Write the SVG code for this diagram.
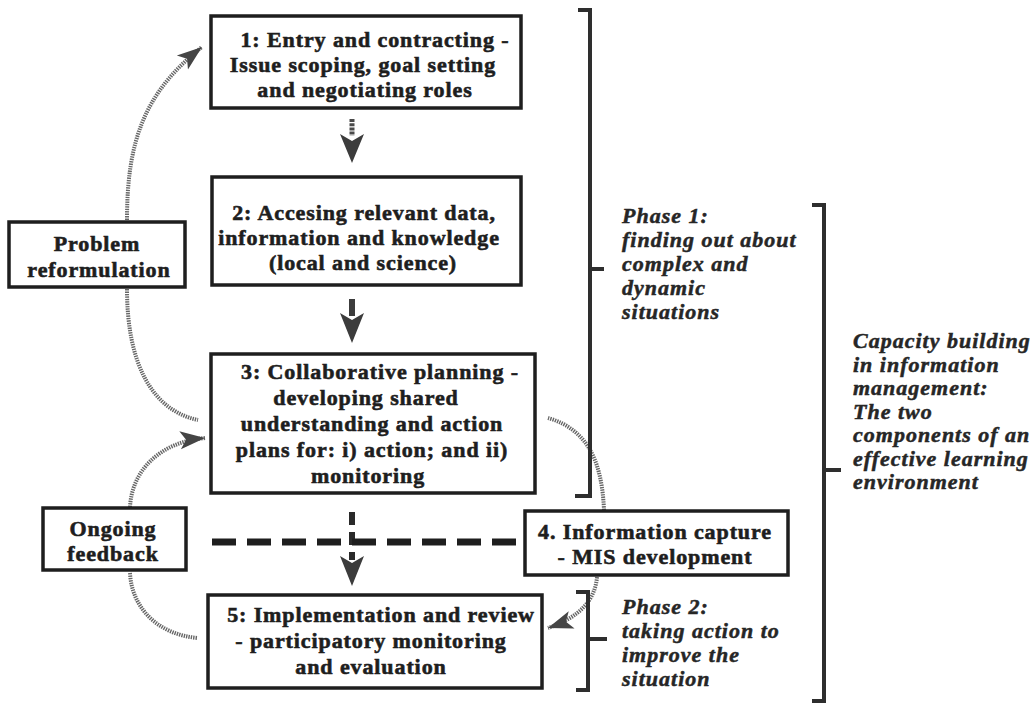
<svg xmlns="http://www.w3.org/2000/svg" width="1035" height="704" viewBox="0 0 1035 704">
  <style>
    .box { fill: #ffffff; stroke: #1e1e1e; stroke-width: 3.5; }
    .lbl { font-family: "Liberation Serif", "Times New Roman", serif; font-weight: bold; font-size: 22px; letter-spacing: 0.9px; fill: #1e1e1e; stroke: #1e1e1e; stroke-width: 0.6px; text-anchor: middle; }
    .note { font-family: "Liberation Serif", "Times New Roman", serif; font-weight: bold; font-style: italic; font-size: 22px; letter-spacing: 1px; fill: #262626; stroke: #262626; stroke-width: 0.5px; }
    .brace { fill: none; stroke: #2e2e2e; stroke-width: 4; }
    .loop { fill: none; stroke: #666666; stroke-width: 4; stroke-dasharray: 1.4 1; }
    .head { fill: #3c3c3c; }
  </style>
  <defs>
    <marker id="loopHead" markerUnits="userSpaceOnUse" markerWidth="26" markerHeight="20" viewBox="0 0 26 20" refX="25" refY="10" orient="auto">
      <path d="M0,1 L25,10 L0,19 L6,10 Z" fill="#454545"/>
    </marker>
  </defs>

  <rect width="1035" height="704" fill="#ffffff"/>

  <!-- connectors -->
  <g id="connectors">
    <!-- 1 to 2 -->
    <line x1="352" y1="119" x2="352" y2="136" stroke="#4a4a4a" stroke-width="5" stroke-dasharray="3 1.2"/>
    <path class="head" d="M340,134 L352,141 L364,134 L352,163 Z"/>
    <!-- 2 to 3 -->
    <line x1="352" y1="299" x2="352" y2="316" stroke="#3c3c3c" stroke-width="6"/>
    <path class="head" d="M340,313 L352,320 L364,313 L352,343 Z"/>
    <!-- 3 to 5 with information capture line -->
    <line x1="352" y1="512" x2="352" y2="560" stroke="#2a2a2a" stroke-width="6" stroke-dasharray="13 7"/>
    <line x1="212" y1="542" x2="524" y2="542" stroke="#1e1e1e" stroke-width="7" stroke-dasharray="24 11"/>
    <path class="head" d="M340,556 L352,563 L364,556 L352,586 Z"/>
    <!-- feedback loops -->
    <path class="loop" d="M127,220 C127,140 145,92 202,47" marker-end="url(#loopHead)"/>
    <path class="loop" d="M127,289 C127,360 150,410 198,420"/>
    <path class="loop" d="M130,507 C132,470 160,442 205,438" marker-end="url(#loopHead)"/>
    <path class="loop" d="M130,573 C132,610 160,635 198,638"/>
    <path class="loop" d="M604,510 C602,465 590,430 548,418"/>
    <path class="loop" d="M597,577 C595,600 580,617 548,628" marker-end="url(#loopHead)"/>
  </g>

  <!-- brackets -->
  <g id="bracket-phase1">
    <path class="brace" d="M578,10 H590 V496 H575 M590,269 H604"/>
  </g>
  <g id="bracket-capacity">
    <path class="brace" d="M812,205 H824 V701 H812 M824,470 H841"/>
  </g>
  <g id="bracket-phase2">
    <path class="brace" d="M576,592 H588 V690 H576 M588,639 H607"/>
  </g>

  <!-- nodes -->
  <g id="step1">
    <rect class="box" x="211" y="16" width="310" height="92"/>
    <text class="lbl" x="375" y="47">1: Entry and contracting -</text>
    <text class="lbl" x="363" y="72">Issue scoping, goal setting</text>
    <text class="lbl" x="365" y="97">and negotiating roles</text>
  </g>
  <g id="step2">
    <rect class="box" x="212" y="177" width="309" height="108"/>
    <text class="lbl" x="364" y="220">2: Accesing relevant data,</text>
    <text class="lbl" x="359" y="245">information and knowledge</text>
    <text class="lbl" x="363" y="270">(local and science)</text>
  </g>
  <g id="step3">
    <rect class="box" x="211" y="354" width="324" height="139"/>
    <text class="lbl" x="380" y="379">3: Collaborative planning -</text>
    <text class="lbl" x="366" y="405">developing shared</text>
    <text class="lbl" x="372" y="431">understanding and action</text>
    <text class="lbl" x="372" y="457">plans for: i) action; and ii)</text>
    <text class="lbl" x="368" y="483">monitoring</text>
  </g>
  <g id="step4">
    <rect class="box" x="525" y="511" width="263" height="64"/>
    <text class="lbl" x="655" y="539">4. Information capture</text>
    <text class="lbl" x="655" y="564">- MIS development</text>
  </g>
  <g id="step5">
    <rect class="box" x="208" y="595" width="334" height="93"/>
    <text class="lbl" x="381" y="622">5: Implementation and review</text>
    <text class="lbl" x="371" y="648">- participatory monitoring</text>
    <text class="lbl" x="371" y="674">and evaluation</text>
  </g>
  <g id="problem-reformulation">
    <rect class="box" x="9" y="222" width="176" height="65"/>
    <text class="lbl" x="97" y="251">Problem</text>
    <text class="lbl" x="99" y="277">reformulation</text>
  </g>
  <g id="ongoing-feedback">
    <rect class="box" x="43" y="508" width="143" height="62"/>
    <text class="lbl" x="113" y="536">Ongoing</text>
    <text class="lbl" x="113" y="561">feedback</text>
  </g>

  <!-- bracket notes -->
  <g id="note-phase1">
    <text class="note" x="622" y="223">Phase 1:</text>
    <text class="note" x="622" y="247">finding out about</text>
    <text class="note" x="622" y="271">complex and</text>
    <text class="note" x="622" y="295">dynamic</text>
    <text class="note" x="622" y="319">situations</text>
  </g>
  <g id="note-capacity">
    <text class="note" x="853" y="348">Capacity building</text>
    <text class="note" x="853" y="371.5">in information</text>
    <text class="note" x="853" y="395">management:</text>
    <text class="note" x="853" y="418.5">The two</text>
    <text class="note" x="853" y="442">components of an</text>
    <text class="note" x="853" y="465.5">effective learning</text>
    <text class="note" x="853" y="489">environment</text>
  </g>
  <g id="note-phase2">
    <text class="note" x="622" y="614">Phase 2:</text>
    <text class="note" x="622" y="638">taking action to</text>
    <text class="note" x="622" y="662">improve the</text>
    <text class="note" x="622" y="686">situation</text>
  </g>
</svg>
